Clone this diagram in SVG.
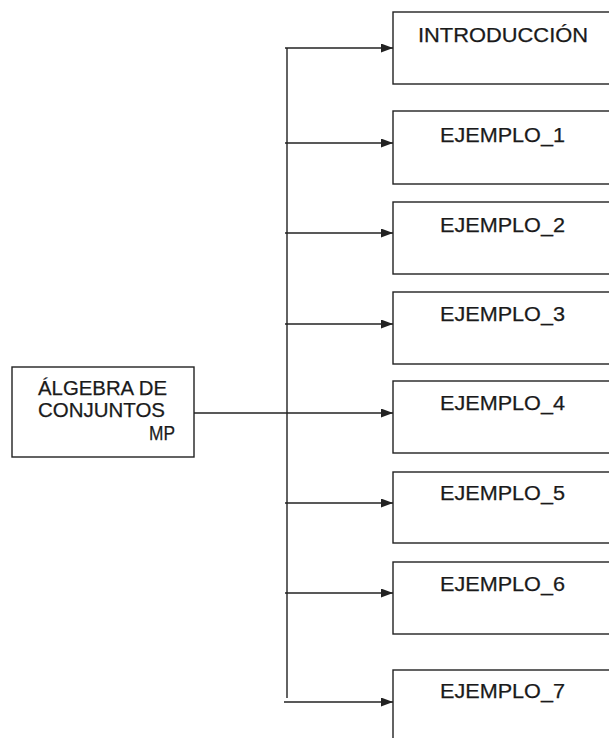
<svg xmlns="http://www.w3.org/2000/svg" width="609" height="738" viewBox="0 0 609 738">
<style>
.box{fill:#fff;stroke:#222;stroke-width:1.4}
.lbl{font-family:"Liberation Sans",Arial,sans-serif;font-size:20px;fill:#1a1a1a;stroke:#1a1a1a;stroke-width:0.25}
.conn{stroke:#222;stroke-width:1.4;fill:none}
</style>
<defs>
<marker id="ah" markerWidth="12" markerHeight="9" refX="12" refY="4.5" orient="auto" markerUnits="userSpaceOnUse">
<path d="M0,0 L12,4.5 L0,9 Z" fill="#222"/>
</marker>
</defs>
<rect width="609" height="738" fill="#fff"/>
<g id="main">
<rect class="box" x="12" y="367" width="182" height="90"/>
<text class="lbl" x="38" y="395" textLength="129" lengthAdjust="spacingAndGlyphs">ÁLGEBRA DE</text>
<text class="lbl" x="38" y="417" textLength="127" lengthAdjust="spacingAndGlyphs">CONJUNTOS</text>
<text class="lbl" x="149" y="440" textLength="26" lengthAdjust="spacingAndGlyphs">MP</text>
</g>
<g id="introduccion">
<rect class="box" x="393" y="12" width="230" height="72"/>
<text class="lbl" x="418" y="42" textLength="170" lengthAdjust="spacingAndGlyphs">INTRODUCCIÓN</text>
</g>
<g id="ejemplo1">
<rect class="box" x="393" y="111" width="230" height="73"/>
<text class="lbl" x="440" y="142" textLength="125" lengthAdjust="spacingAndGlyphs">EJEMPLO_1</text>
</g>
<g id="ejemplo2">
<rect class="box" x="393" y="202" width="230" height="72"/>
<text class="lbl" x="440" y="232" textLength="125" lengthAdjust="spacingAndGlyphs">EJEMPLO_2</text>
</g>
<g id="ejemplo3">
<rect class="box" x="393" y="292" width="230" height="72"/>
<text class="lbl" x="440" y="321" textLength="125" lengthAdjust="spacingAndGlyphs">EJEMPLO_3</text>
</g>
<g id="ejemplo4">
<rect class="box" x="393" y="381" width="230" height="72"/>
<text class="lbl" x="440" y="410" textLength="125" lengthAdjust="spacingAndGlyphs">EJEMPLO_4</text>
</g>
<g id="ejemplo5">
<rect class="box" x="393" y="472" width="230" height="71"/>
<text class="lbl" x="440" y="500" textLength="125" lengthAdjust="spacingAndGlyphs">EJEMPLO_5</text>
</g>
<g id="ejemplo6">
<rect class="box" x="393" y="562" width="230" height="72"/>
<text class="lbl" x="440" y="591" textLength="125" lengthAdjust="spacingAndGlyphs">EJEMPLO_6</text>
</g>
<g id="ejemplo7">
<rect class="box" x="393" y="670" width="230" height="90"/>
<text class="lbl" x="440" y="698" textLength="125" lengthAdjust="spacingAndGlyphs">EJEMPLO_7</text>
</g>
<g id="connectors">
<line class="conn" x1="287" y1="48" x2="287" y2="698"/>
<line class="conn" x1="194" y1="413" x2="393" y2="413" marker-end="url(#ah)"/>
<line class="conn" x1="285" y1="48" x2="393" y2="48" marker-end="url(#ah)"/>
<line class="conn" x1="285" y1="143" x2="393" y2="143" marker-end="url(#ah)"/>
<line class="conn" x1="285" y1="233" x2="393" y2="233" marker-end="url(#ah)"/>
<line class="conn" x1="285" y1="324" x2="393" y2="324" marker-end="url(#ah)"/>
<line class="conn" x1="285" y1="503" x2="393" y2="503" marker-end="url(#ah)"/>
<line class="conn" x1="285" y1="593" x2="393" y2="593" marker-end="url(#ah)"/>
<line class="conn" x1="284" y1="702" x2="393" y2="702" marker-end="url(#ah)"/>
</g>
</svg>
